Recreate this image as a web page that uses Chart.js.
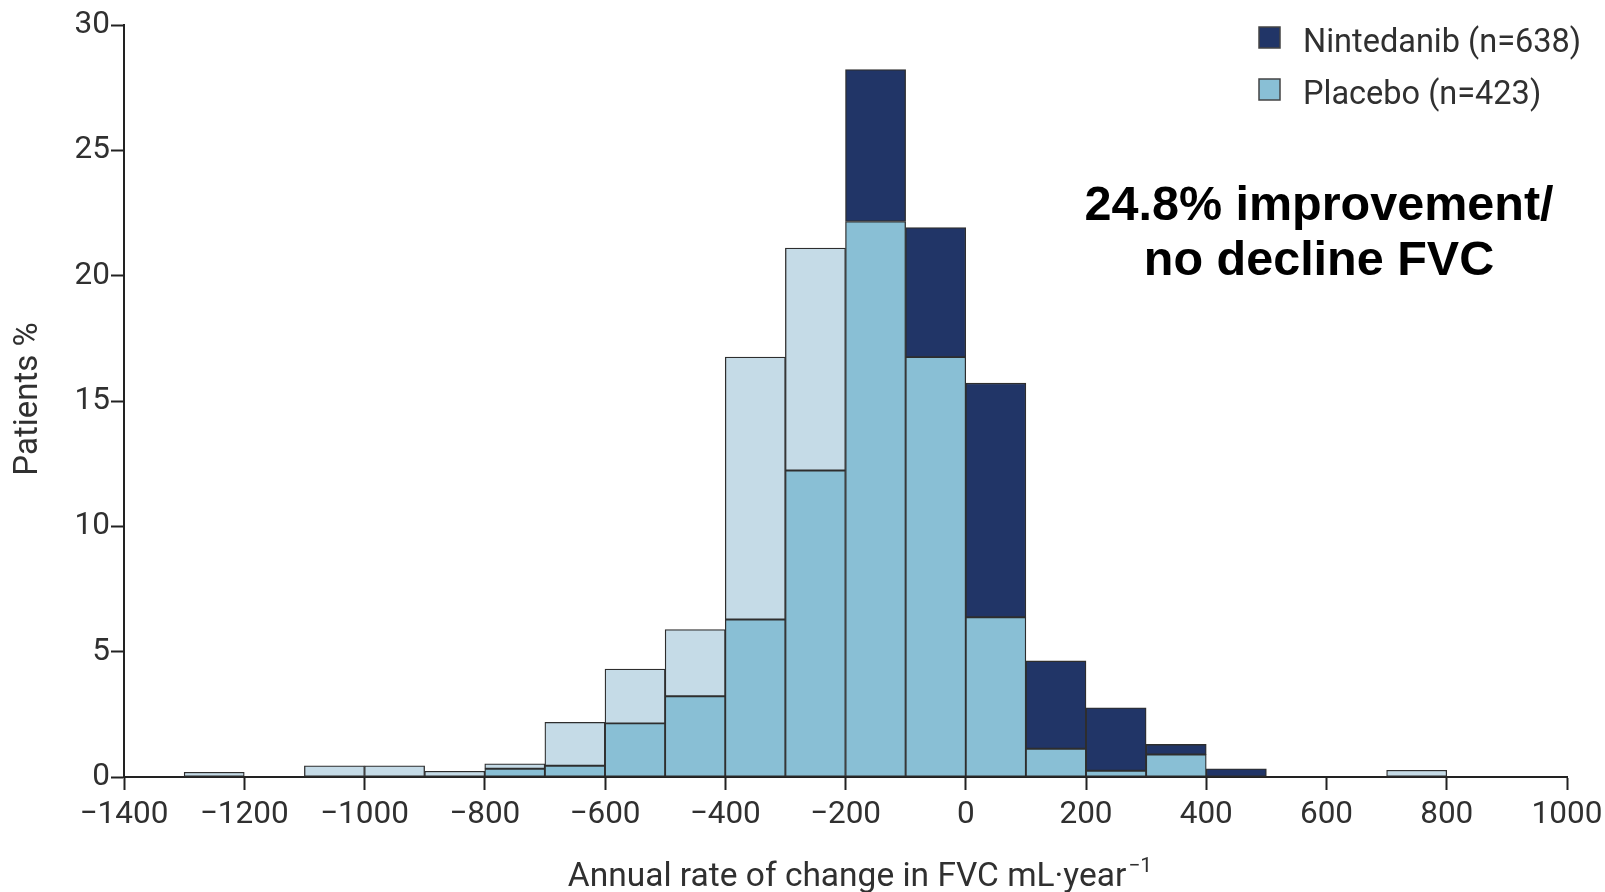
<!DOCTYPE html>
<html>
<head>
<meta charset="utf-8">
<title>Annual rate of change in FVC</title>
<script src="https://cdn.jsdelivr.net/npm/chart.js@4.4.1/dist/chart.umd.min.js"></script>
<style>
  html, body { margin: 0; padding: 0; background: #ffffff; }
  #wrap { width: 1605px; height: 892px; position: relative; }
</style>
</head>
<body>
<div id="wrap"><canvas id="hist" width="1605" height="892"></canvas></div>
<script>
// Histogram bins (lower edge, mL/year), each 100 mL wide
const binStarts = [-1300, -1200, -1100, -1000, -900, -800, -700, -600, -500, -400, -300,
                   -200, -100, 0, 100, 200, 300, 400, 500, 600, 700];
const binWidth = 100;

// Percentage of patients per bin
const nintedanibPct = [0, 0, 0, 0, 0, 0.33, 0.45, 2.14, 3.22, 6.28, 12.23,
                       28.22, 21.92, 15.71, 4.63, 2.76, 1.30, 0.33, 0, 0, 0];
const placeboPct    = [0.19, 0, 0.45, 0.45, 0.23, 0.53, 2.18, 4.31, 5.88, 16.75, 21.10,
                       22.16, 16.75, 6.37, 1.13, 0.25, 0.90, 0, 0, 0, 0.27];

const seriesNames = ['Nintedanib (n=638)', 'Placebo (n=423)'];
const xTickLabels = [-1400, -1200, -1000, -800, -600, -400, -200, 0, 200, 400, 600, 800, 1000];
const yTickLabels = [0, 5, 10, 15, 20, 25, 30];
const noteLines = ['24.8% improvement/', 'no decline FVC'];

const COLORS = {
  nintedanib: '#213567',
  placebo: '#89bfd5',
  placeboOnly: '#c5dbe7',
  edge: '#2e2e2e',
  axis: '#222222',
  text: '#303030'
};

// Overlaid histograms: the shared part of both groups, then whichever group is higher on top
const centers = binStarts.map(s => s + binWidth / 2);
const orNull = v => (v > 1e-9 ? v : null);
const shared = binStarts.map((_, i) => ({ x: centers[i], y: orNull(Math.min(nintedanibPct[i], placeboPct[i])) }));
const nintedanibExtra = binStarts.map((_, i) => ({ x: centers[i], y: orNull(nintedanibPct[i] - placeboPct[i]) }));
const placeboExtra = binStarts.map((_, i) => ({ x: centers[i], y: orNull(placeboPct[i] - nintedanibPct[i]) }));

const barStyle = {
  borderColor: COLORS.edge,
  borderWidth: 1.3,
  borderSkipped: false,
  barPercentage: 1,
  categoryPercentage: 1
};

const TICK_FONT = { family: 'Roboto', size: 31.5, weight: 'normal' };
const minus = v => String(v).replace('-', '\u2212');

// Axis titles, legend and the callout text
const decorations = {
  id: 'decorations',
  afterDraw(chart) {
    const ctx = chart.ctx;
    ctx.save();

    // y-axis title
    ctx.fillStyle = COLORS.text;
    ctx.font = 'normal 33px Roboto';
    ctx.textAlign = 'center';
    ctx.textBaseline = 'alphabetic';
    ctx.save();
    ctx.translate(37, 399);
    ctx.rotate(-Math.PI / 2);
    ctx.fillText('Patients %', 0, 0);
    ctx.restore();

    // x-axis title with superscript exponent
    const main = 'Annual rate of change in FVC mL\u00B7year';
    const sup = '\u22121';
    ctx.font = 'normal 33.5px Roboto';
    const wMain = ctx.measureText(main).width;
    ctx.font = 'normal 21px Roboto';
    const wSup = ctx.measureText(sup).width;
    const startX = 860 - (wMain + wSup + 2) / 2;
    ctx.textAlign = 'left';
    ctx.font = 'normal 33.5px Roboto';
    ctx.fillText(main, startX, 886);
    ctx.font = 'normal 21px Roboto';
    ctx.fillText(sup, startX + wMain + 2, 872);

    // legend
    const legendItems = [
      { label: seriesNames[0], color: COLORS.nintedanib, y: 27 },
      { label: seriesNames[1], color: COLORS.placebo, y: 79 }
    ];
    legendItems.forEach(item => {
      ctx.fillStyle = item.color;
      ctx.fillRect(1259, item.y, 21, 21);
      ctx.strokeStyle = '#444444';
      ctx.lineWidth = 1.5;
      ctx.strokeRect(1259, item.y, 21, 21);
      ctx.fillStyle = COLORS.text;
      ctx.font = 'normal 32.5px Roboto';
      ctx.textAlign = 'left';
      ctx.fillText(item.label, 1303, item.y + 25);
    });

    // callout
    ctx.fillStyle = '#000000';
    ctx.font = 'bold 48.5px "Liberation Sans", Arial, sans-serif';
    ctx.textAlign = 'center';
    ctx.fillText(noteLines[0], 1319, 220);
    ctx.fillText(noteLines[1], 1319, 275);

    ctx.restore();
  }
};

new Chart(document.getElementById('hist'), {
  type: 'bar',
  data: {
    datasets: [
      Object.assign({ label: 'shared', data: shared, backgroundColor: COLORS.placebo }, barStyle),
      Object.assign({ label: seriesNames[0], data: nintedanibExtra, backgroundColor: COLORS.nintedanib }, barStyle),
      Object.assign({ label: seriesNames[1], data: placeboExtra, backgroundColor: COLORS.placeboOnly }, barStyle)
    ]
  },
  options: {
    responsive: false,
    devicePixelRatio: 1,
    animation: false,
    layout: { padding: { left: 0, right: 38, top: 25, bottom: 0 } },
    plugins: {
      legend: { display: false },
      tooltip: { enabled: false }
    },
    scales: {
      x: {
        type: 'linear',
        stacked: true,
        offset: false,
        min: xTickLabels[0],
        max: xTickLabels[xTickLabels.length - 1],
        afterBuildTicks: scale => { scale.ticks = xTickLabels.map(v => ({ value: v })); },
        afterFit: scale => {
          scale.height = 115;
          // let the end labels run into the page margin
          scale.paddingLeft = 0;
          scale.paddingRight = 0;
        },
        grid: {
          offset: false,
          drawOnChartArea: false,
          drawTicks: true,
          tickLength: 13,
          tickColor: COLORS.axis,
          tickWidth: 2
        },
        border: { color: COLORS.axis, width: 2 },
        ticks: {
          color: COLORS.text,
          font: TICK_FONT,
          padding: 6,
          maxRotation: 0,
          autoSkip: false,
          callback: v => minus(v)
        }
      },
      y: {
        stacked: true,
        min: yTickLabels[0],
        max: yTickLabels[yTickLabels.length - 1],
        afterBuildTicks: scale => { scale.ticks = yTickLabels.map(v => ({ value: v })); },
        afterFit: scale => { scale.width = 124; },
        grid: {
          drawOnChartArea: false,
          drawTicks: true,
          tickLength: 13,
          tickColor: COLORS.axis,
          tickWidth: 2
        },
        border: { color: COLORS.axis, width: 2 },
        ticks: {
          color: COLORS.text,
          font: TICK_FONT,
          padding: 1,
          callback: v => minus(v)
        }
      }
    }
  },
  plugins: [decorations]
});
</script>
</body>
</html>
